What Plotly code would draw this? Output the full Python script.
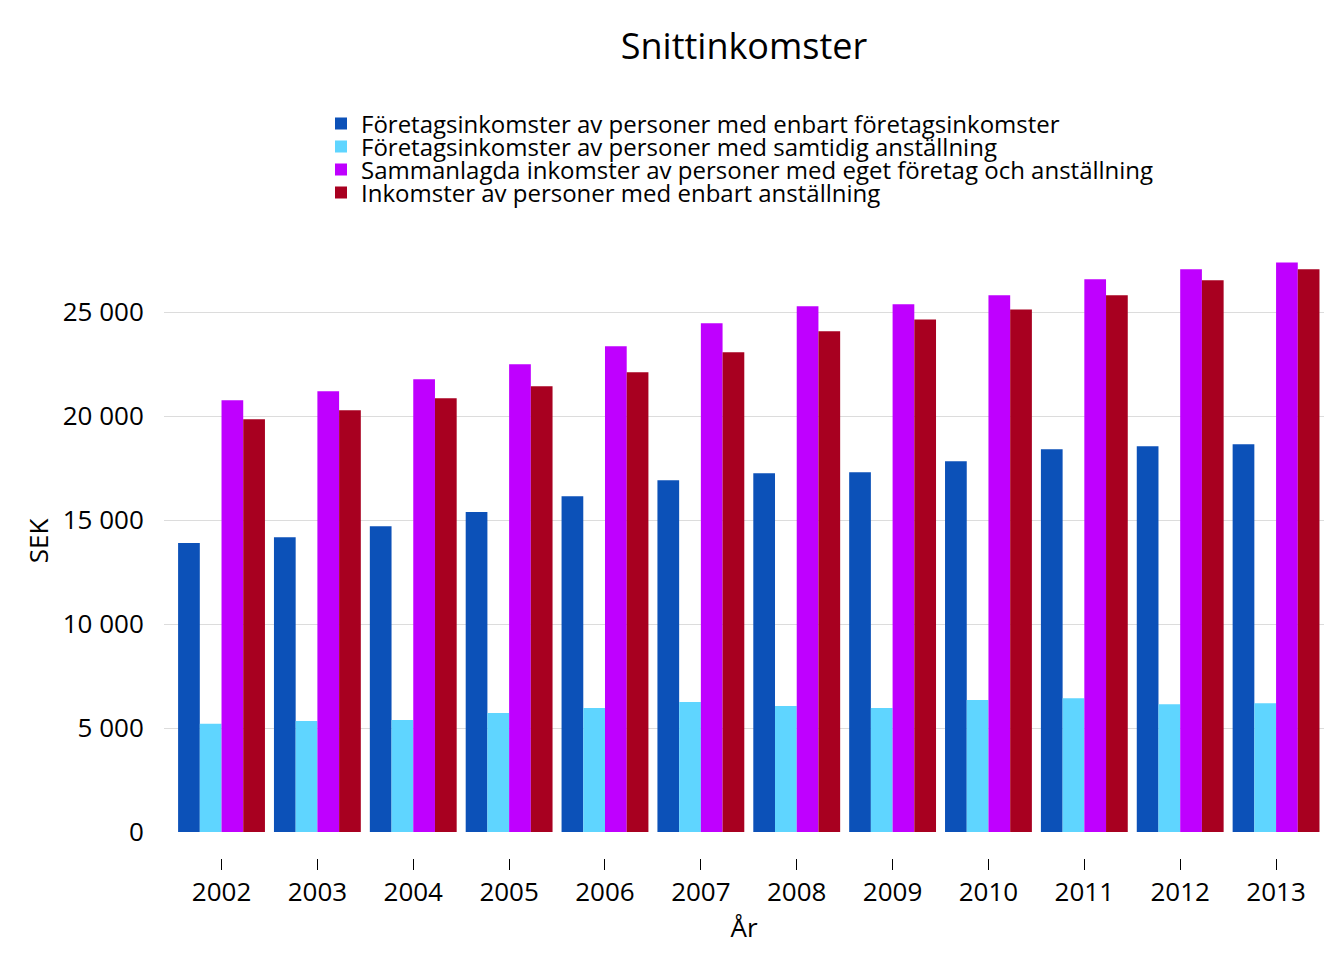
import plotly.graph_objects as go

years = ["2002", "2003", "2004", "2005", "2006", "2007", "2008", "2009", "2010", "2011", "2012", "2013"]

names = [
    "Företagsinkomster av personer med enbart företagsinkomster",
    "Företagsinkomster av personer med samtidig anställning",
    "Sammanlagda inkomster av personer med eget företag och anställning",
    "Inkomster av personer med enbart anställning",
]

foretag_enbart = [13900, 14180, 14710, 15390, 16150, 16920, 17260, 17310, 17840, 18410, 18560, 18650]
foretag_samtidig = [5210, 5340, 5390, 5720, 5960, 6250, 6060, 5960, 6350, 6440, 6150, 6200]
sammanlagda = [20770, 21200, 21780, 22500, 23370, 24470, 25290, 25390, 25820, 26590, 27070, 27400]
anstallning = [19860, 20290, 20870, 21440, 22120, 23080, 24090, 24660, 25140, 25820, 26540, 27070]

series = [foretag_enbart, foretag_samtidig, sammanlagda, anstallning]
colors = ["#0c51b8", "#5fd5ff", "#bf00ff", "#a80020"]

FONT = "Open Sans"
# page body has an 8px margin, so the figure is drawn 8px in from the window edge
W, H = 1336, 952
ML, MR, MT, MB = 156, 20, 242, 102
plot_h = H - MT - MB
plot_w = W - ML - MR
axis_gap = 26  # px between x-axis (tick row) and the zero line

fig = go.Figure()
legend_keys = ["legend", "legend2", "legend3", "legend4"]
for name, vals, col, lk in zip(names, series, colors, legend_keys):
    fig.add_trace(go.Bar(x=years, y=vals, name=name, marker=dict(color=col, line=dict(width=0)),
                         legend=lk, showlegend=True))

legend_centers_px = [116, 139, 162, 185]
legend_left_px = 313
legend_cfgs = {}
for lk, cy in zip(legend_keys, legend_centers_px):
    legend_cfgs[lk] = dict(
        x=(legend_left_px - ML) / plot_w, xanchor="left",
        y=(H - MB - cy) / plot_h, yanchor="middle",
        font=dict(family=FONT, size=24, color="#000"),
        bgcolor="rgba(0,0,0,0)", borderwidth=0,
    )

fig.update_layout(
    width=W, height=H,
    showlegend=True,
    margin=dict(l=ML, r=MR, t=MT, b=MB, autoexpand=False),
    paper_bgcolor="white", plot_bgcolor="white",
    barmode="group", bargap=0.094, bargroupgap=0,
    separators=", ",
    font=dict(family=FONT, size=26, color="#000"),
    title=dict(text="Snittinkomster", x=0.5, xref="paper", y=1 - 38 / H, yref="container",
               yanchor="middle", xanchor="center", font=dict(family=FONT, size=36, color="#000")),
    xaxis=dict(type="category", range=[-0.6, 11.5], anchor="free", position=0,
               ticks="outside", ticklen=11, tickwidth=1, tickcolor="#000",
               showgrid=False, showline=False, zeroline=False,
               tickfont=dict(family=FONT, size=26, color="#000"),
               title=dict(text="År", font=dict(family=FONT, size=26, color="#000"), standoff=0)),
    yaxis=dict(range=[0, 28000], domain=[axis_gap / plot_h, 1], tickvals=[0, 5000, 10000, 15000, 20000, 25000],
               tickformat=",d", separatethousands=True,
               ticks="outside", ticklen=14, tickcolor="rgba(0,0,0,0)",
               showgrid=True, gridcolor="#dcdcdc", gridwidth=1, zeroline=False, showline=False,
               tickfont=dict(family=FONT, size=26, color="#000"),
               title=dict(text="SEK", font=dict(family=FONT, size=26, color="#000"), standoff=6)),
    **legend_cfgs,
)

fig.write_html("out.html")
